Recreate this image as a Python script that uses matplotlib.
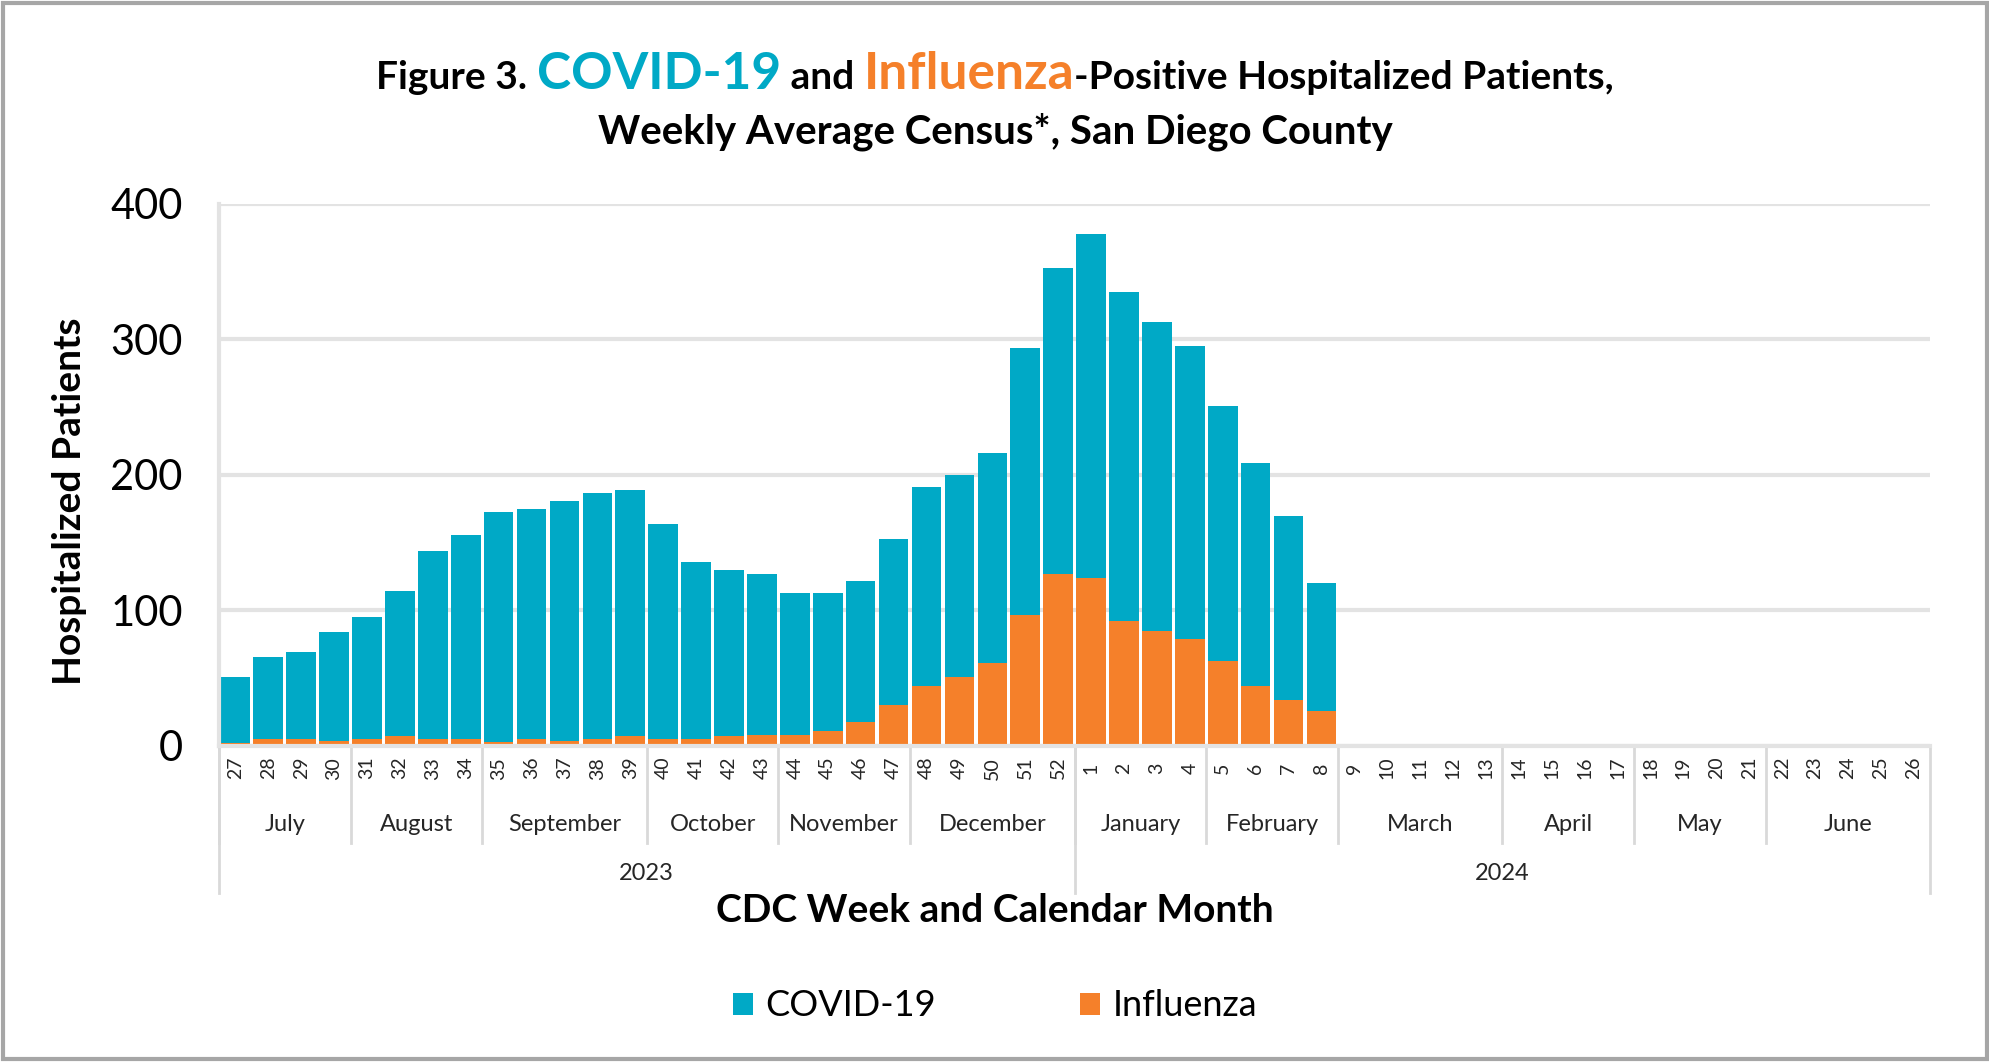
import numpy as np
import matplotlib.pyplot as plt
from matplotlib.offsetbox import TextArea, HPacker, AnnotationBbox
from matplotlib.patches import Rectangle

plt.rcParams['font.family'] = ['Lato', 'DejaVu Sans']

# CDC weeks, July 2023 - June 2024
weeks = list(range(27, 53)) + list(range(1, 27))
months = ['July', 'August', 'September', 'October', 'November', 'December',
          'January', 'February', 'March', 'April', 'May', 'June']
month_weeks = [4, 4, 5, 4, 4, 5, 4, 4, 5, 4, 4, 5]
years = ['2023', '2024']
year_weeks = [26, 26]

# weekly average census (data through week 8 of 2024)
covid = [49, 61, 64, 80, 90, 107, 139, 151, 170, 170, 177, 182, 182, 159,
         131, 123, 119, 105, 102, 104, 123, 147, 149, 155, 197, 226,
         254, 243, 228, 216, 188, 165, 136, 94]
flu = [2, 5, 5, 4, 5, 7, 5, 5, 3, 5, 4, 5, 7, 5,
       5, 7, 8, 8, 11, 18, 30, 44, 51, 61, 97, 127,
       124, 92, 85, 79, 63, 44, 34, 26]

teal = '#00A9C6'
orange = '#F5802A'
grid_c = '#e3e3e3'

fig = plt.figure(figsize=(19.9, 10.62), dpi=100)
ax = fig.add_axes([0.110, 0.2976, 0.860, 0.5104])

x = np.arange(len(covid))
ax.bar(x, flu, width=0.9, color=orange, label='Influenza', zorder=2)
ax.bar(x, covid, bottom=flu, width=0.9, color=teal, label='COVID-19', zorder=2)

ax.set_xlim(-0.5, len(weeks) - 0.5)
ax.set_ylim(0, 400)
ax.set_yticks([0, 100, 200, 300, 400])
ax.yaxis.grid(True, color=grid_c, lw=3)
ax.set_axisbelow(True)
ax.set_xticks([])
for s in ['top', 'right']:
    ax.spines[s].set_visible(False)
for s in ['left', 'bottom']:
    ax.spines[s].set_color(grid_c)
    ax.spines[s].set_linewidth(3)
ax.tick_params(axis='y', length=0, labelsize=30, pad=26)

# week numbers
tr = ax.get_xaxis_transform()
for i, w in enumerate(weeks):
    ax.text(i, -0.041, str(w), transform=tr, rotation=90, ha='center',
            va='center', fontsize=14, color='#262626')

# month groups
start = -0.5
for m, n in zip(months, month_weeks):
    ax.text(start + n / 2, -0.144, m, transform=tr, ha='center', va='center',
            fontsize=17, color='#262626')
    ax.plot([start, start], [0, -0.179], transform=tr, color='#d9d9d9',
            lw=2, clip_on=False)
    start += n

# year groups
start = -0.5
for yr, n in zip(years, year_weeks):
    ax.text(start + n / 2, -0.236, yr, transform=tr, ha='center', va='center',
            fontsize=17, color='#262626')
    ax.plot([start, start], [0, -0.271], transform=tr, color='#d9d9d9',
            lw=2, clip_on=False)
    start += n
ax.plot([start, start], [0, -0.271], transform=tr, color='#d9d9d9',
        lw=2, clip_on=False)

fig.text(0.5, 1 - 910 / 1062, 'CDC Week and Calendar Month', ha='center',
         va='center', fontsize=28, fontweight='bold')
fig.text(0.035, 1 - 501 / 1062, 'Hospitalized Patients', rotation=90,
         ha='center', va='center', fontsize=28, fontweight='bold')

# title with coloured words
def piece(s, color='black', size=28):
    return TextArea(s, textprops=dict(color=color, fontsize=size,
                                      fontweight='bold'))

line1 = HPacker(children=[piece('Figure 3. '), piece('COVID-19', teal, 37),
                          piece(' and '), piece('Influenza', orange, 37),
                          piece('-Positive Hospitalized Patients,')],
                align='baseline', pad=0, sep=0)
fig.add_artist(AnnotationBbox(line1, (0.5, 1 - 74 / 1062),
                              xycoords='figure fraction', frameon=False,
                              box_alignment=(0.5, 0.5)))
fig.text(0.5, 1 - 132 / 1062, 'Weekly Average Census*, San Diego County',
         ha='center', va='center', fontsize=29, fontweight='bold')

handles, labels = ax.get_legend_handles_labels()
fig.legend(handles[::-1], labels[::-1], loc='center',
           bbox_to_anchor=(0.5, 1 - 1006 / 1062), ncol=2, frameon=False,
           fontsize=26, handlelength=0.55, handleheight=0.55,
           handletextpad=0.35, columnspacing=4)

fig.add_artist(Rectangle((0.0015, 0.003), 0.997, 0.994,
                         transform=fig.transFigure, fill=False,
                         edgecolor='#a6a6a6', lw=3))

plt.savefig('out.png', dpi=100)
